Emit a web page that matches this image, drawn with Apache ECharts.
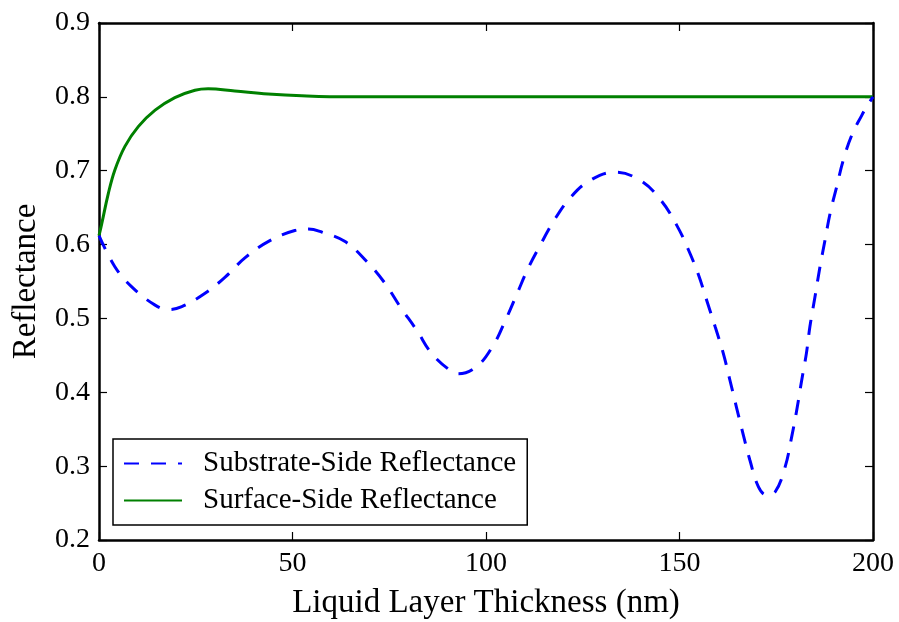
<!DOCTYPE html>
<html>
<head>
<meta charset="utf-8">
<script src="https://cdn.jsdelivr.net/npm/echarts@6/dist/echarts.min.js"></script>
<style>
  html, body { margin: 0; padding: 0; background: #fff; }
  #chart { width: 899px; height: 622px; }
</style>
</head>
<body>
<div id="chart"></div>
<script>
// values
const subX = [0, 4.1, 8.4, 14.5, 17.9, 21.4, 27.4, 32.6, 37.7, 43.7, 50.6, 54.1, 57.5, 63.6, 69.2, 73.7,
  77.8, 82.1, 85.9, 91.1, 92.8, 97.6, 101.7, 104.9, 107.9, 110.9, 114.0, 117.4, 121.7, 126.9, 133.3,
  139.8, 145.2, 149.3, 152.3, 154.9, 157.0, 159.2, 161.3, 163.0, 164.8, 166.5, 168.2, 170.4, 172.5,
  174.7, 177.3, 179.0, 180.3, 181.5, 182.8, 183.7, 185.0, 186.3, 187.6, 188.9, 190.6, 192.3, 194.5,
  197.1, 198.4, 200];
const subY = [0.612, 0.570, 0.543, 0.518, 0.512, 0.516, 0.534, 0.556, 0.582, 0.604, 0.619, 0.621, 0.617, 0.604, 0.577, 0.549,
  0.516, 0.484, 0.453, 0.428, 0.425, 0.435, 0.462, 0.496, 0.532, 0.568, 0.599, 0.631, 0.663, 0.687, 0.698,
  0.687, 0.660, 0.626, 0.593, 0.559, 0.525, 0.489, 0.453, 0.417, 0.378, 0.342, 0.308, 0.272, 0.261,
  0.265, 0.299, 0.340, 0.376, 0.414, 0.453, 0.489, 0.529, 0.570, 0.606, 0.642, 0.678, 0.714, 0.748,
  0.775, 0.787, 0.800];

const surfX = [0, 0.7, 2.4, 4.1, 6.7, 10.2, 14.5, 19.6, 24.8, 28.2, 35.1, 43.7, 52.4, 64.5, 80, 100, 125, 150, 175, 200];
const surfY = [0.612, 0.628, 0.669, 0.701, 0.733, 0.760, 0.782, 0.799, 0.809, 0.811, 0.808, 0.804, 0.8015, 0.800, 0.800, 0.800, 0.800, 0.800, 0.800, 0.800];

const xTicks = [0, 50, 100, 150, 200];
const yTicks = [0.2, 0.3, 0.4, 0.5, 0.6, 0.7, 0.8, 0.9];

const serif = '"Liberation Serif", "DejaVu Serif", serif';

const subData = subX.map((x, i) => [x, subY[i]]);
const surfData = surfX.map((x, i) => [x, surfY[i]]);

const chart = echarts.init(document.getElementById('chart'));

const frameLine = { show: true, onZero: false, lineStyle: { color: '#000', width: 2.5 } };
const inTick = { show: true, inside: true, length: 8, lineStyle: { color: '#000', width: 1.2 } };

chart.setOption({
  animation: false,
  backgroundColor: '#fff',
  grid: { left: 99, right: 26, top: 23, bottom: 82, containLabel: false, outerBoundsMode: 'none' },
  legend: {
    orient: 'vertical',
    left: 113,
    top: 439,
    padding: [10, 11, 10, 10],
    itemWidth: 58,
    itemHeight: 14,
    itemGap: 8,
    borderColor: '#000',
    borderWidth: 1.5,
    borderRadius: 0,
    backgroundColor: '#fff',
    itemStyle: { opacity: 0 },
    textStyle: { fontFamily: serif, fontSize: 29, color: '#000', padding: [0, 0, 0, 16] },
    data: ['Substrate-Side Reflectance', 'Surface-Side Reflectance']
  },
  xAxis: [{
    type: 'value', min: 0, max: 200, interval: 50,
    name: 'Liquid Layer Thickness (nm)', nameLocation: 'middle', nameGap: 47,
    nameTextStyle: { fontFamily: serif, fontSize: 33, color: '#000' },
    axisLine: frameLine, axisTick: inTick,
    axisLabel: { fontFamily: serif, fontSize: 28, color: '#000', margin: 10,
      formatter: v => (xTicks.indexOf(v) >= 0 ? String(v) : '') },
    splitLine: { show: false }
  }, {
    type: 'value', position: 'top', min: 0, max: 200, interval: 50,
    axisLine: frameLine, axisTick: inTick, axisLabel: { show: false }, splitLine: { show: false }
  }],
  yAxis: [{
    type: 'value', min: 0.2, max: 0.9, interval: 0.1,
    name: 'Reflectance', nameLocation: 'middle', nameGap: 56,
    nameTextStyle: { fontFamily: serif, fontSize: 33, color: '#000' },
    axisLine: frameLine, axisTick: inTick,
    axisLabel: { fontFamily: serif, fontSize: 28, color: '#000', margin: 9,
      formatter: v => yTicks.find(t => Math.abs(t - v) < 1e-6).toFixed(1) },
    splitLine: { show: false }
  }, {
    type: 'value', position: 'right', min: 0.2, max: 0.9, interval: 0.1,
    axisLine: frameLine, axisTick: inTick, axisLabel: { show: false }, splitLine: { show: false }
  }],
  series: [{
    name: 'Substrate-Side Reflectance',
    type: 'line',
    data: subData,
    symbol: 'none',
    smooth: 0.4,
    z: 3,
    lineStyle: { color: '#0000ff', width: 3, type: [15, 12] },
    itemStyle: { color: '#0000ff' }
  }, {
    name: 'Surface-Side Reflectance',
    type: 'line',
    data: surfData,
    symbol: 'none',
    smooth: 0.4,
    z: 2,
    lineStyle: { color: '#008000', width: 3 },
    itemStyle: { color: '#008000' }
  }]
});
</script>
</body>
</html>
